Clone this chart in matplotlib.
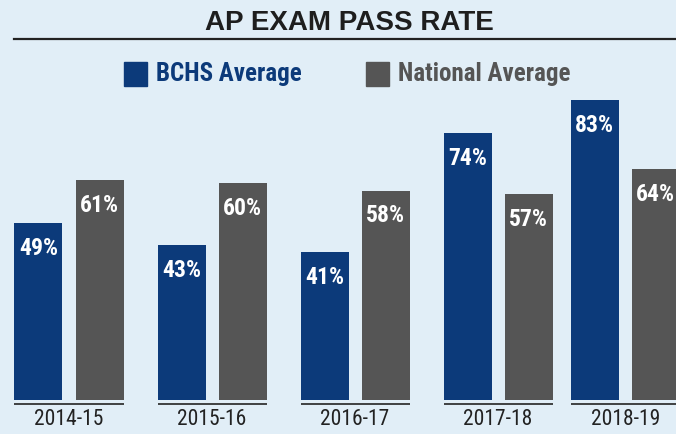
import numpy as np
import matplotlib
matplotlib.use("Agg")
import matplotlib.pyplot as plt
from matplotlib.lines import Line2D
from matplotlib.patches import Rectangle

years = ["2014-15", "2015-16", "2016-17", "2017-18", "2018-19"]
bchs = [49, 43, 41, 74, 83]
national = [61, 60, 58, 57, 64]
series_names = ["BCHS Average", "National Average"]

BLUE = "#0c3a7a"
GRAY = "#555555"
BG = "#e1eef7"
COND = ["Roboto Condensed", "Barlow Condensed", "DejaVu Sans"]
WIDE = ["Liberation Sans", "DejaVu Sans"]

W, H = 676, 434
fig = plt.figure(figsize=(W / 100, H / 100), dpi=100, facecolor=BG)

# axes: bottom at pixel y=400, 3.61 px per percent; one group = 143 px
px_per_group = 143.0
ax = fig.add_axes([0, (H - 400) / H, 1, 361 / H])
ax.set_facecolor(BG)
ax.set_xlim(-69.0 / px_per_group, (W - 69.0) / px_per_group)
ax.set_ylim(0, 100)
ax.axis("off")

# last group sits a little closer in the original layout
x = np.array([0, 1, 2, 3, 3.89])
bw = 48 / px_per_group
off = 30.5 / px_per_group

ax.bar(x - off, bchs, bw, color=BLUE)
ax.bar(x + off, national, bw, color=GRAY)

for xi, b, n in zip(x, bchs, national):
    for xx, v in ((xi - off, b), (xi + off, n)):
        ax.text(xx, v - 7.0, f"{v}%", ha="center", va="center", color="white",
                fontsize=17, fontweight="bold", family=COND)

# group baselines and year labels
ax.hlines(np.full(len(x), -1.2), x - off - bw / 2, x + off + bw / 2,
          color="#333333", lw=1.3, clip_on=False)
for xi, yr in zip(x, years):
    ax.text(xi, -5.5, yr, ha="center", va="center", color="#222222",
            fontsize=15.5, family=COND, clip_on=False)

# title and rule
fig.text(349 / W, 1 - 22.5 / H, "AP EXAM PASS RATE", ha="center", va="center",
         fontsize=20, fontweight="bold", color="#1e1e1e", family=WIDE)
fig.add_artist(Line2D([14 / W, 1], [1 - 38.5 / H] * 2, color="#222222", lw=1.6))

# legend
for sx, tx, col, name in ((124, 156, BLUE, series_names[0]), (366, 398, GRAY, series_names[1])):
    fig.add_artist(Rectangle((sx / W, 1 - 86 / H), 23 / W, 24 / H, color=col,
                             transform=fig.transFigure))
    fig.text(tx / W, 1 - 74 / H, name, ha="left", va="center", fontsize=18,
             fontweight="bold", color=col, family=COND)

fig.savefig("out.png", dpi=100, facecolor=BG)
